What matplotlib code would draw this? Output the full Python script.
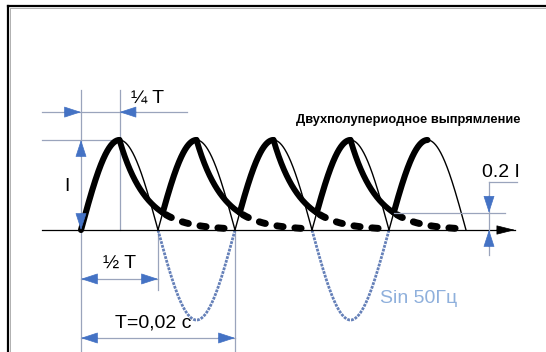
# Двухполупериодное выпрямление со сглаживанием
import numpy as np
import matplotlib.pyplot as plt

# --- исходные величины ---
T = 0.02            # период, с (50 Гц)
I_AMP = 1.0         # амплитуда тока
TAU = 0.0034        # постоянная времени разряда, с
N_HALF = 5          # число полуволн на рисунке
NEG_HALVES = [1, 3] # полуволны, где показан исходный синус (ниже оси)

TITLE = 'Двухполупериодное выпрямление'
LBL_QUARTER = '¼ T'
LBL_HALF = '½ T'
LBL_PERIOD = 'T=0,02 c'
LBL_I = 'I'
LBL_RIPPLE = '0.2 I'
LBL_SIN = 'Sin 50Гц'

plt.rcParams['font.family'] = ['Liberation Sans', 'DejaVu Sans']

DIM = '#9aa4bc'     # размерные линии
ARR = '#4472c4'     # стрелки
SIN_C = '#6580b8'
SIN_TXT = '#8fb0dc'

half = T / 2


def hump(k, t):
    """положительная полуволна номер k"""
    return I_AMP * np.sin(np.pi * (t - k * half) / half)


def decay(k, t):
    """разряд после пика полуволны k"""
    return I_AMP * np.exp(-(t - (k * half + T / 4)) / TAU)


def crossing(k):
    """момент, когда следующая полуволна догоняет разряд"""
    t = np.linspace((k + 1) * half, (k + 1.5) * half, 2000)
    i = np.argmax(hump(k + 1, t) >= decay(k, t))
    return t[i]


def head(ax, x, y, dx, dy, color=ARR, hl=1.1, hw=0.36):
    """только наконечник стрелки, dx/dy -- направление"""
    ax.annotate('', xy=(x, y), xytext=(-dx * 11 * hl, -dy * 11 * hl),
                textcoords='offset points',
                arrowprops=dict(arrowstyle='-|>,head_length=%s,head_width=%s' % (hl, hw),
                                mutation_scale=10, color=color, lw=0.5,
                                shrinkA=0, shrinkB=0))


fig = plt.figure(figsize=(5.46, 3.52), dpi=100)
ax = fig.add_axes([0, 0, 1, 1])
px = 7700.0   # пикселей на секунду
py = 90.0     # пикселей на I
ax.set_xlim(-81 / px, 465 / px)
ax.set_ylim(-122 / py, 230 / py)
ax.axis('off')

# рамка
fig.add_artist(plt.Line2D([8 / 546, 8 / 546], [0, 1 - 6 / 352], color='black', lw=1.6))
fig.add_artist(plt.Line2D([8 / 546, 1], [1 - 6 / 352, 1 - 6 / 352], color='black', lw=1.6))
fig.add_artist(plt.Line2D([10 / 546, 10 / 546], [0, 1 - 8 / 352], color='#b0b0b0', lw=0.7))
fig.add_artist(plt.Line2D([10 / 546, 1], [1 - 8 / 352, 1 - 8 / 352], color='#b0b0b0', lw=0.7))

# размерные линии
xl = -39 / px
ax.plot([0, 0], [-1.5, 1.56], color=DIM, lw=0.9)
ax.plot([T / 4, T / 4], [0, 1.56], color=DIM, lw=0.9)
ax.plot([half, half], [0, -0.67], color=DIM, lw=0.9)
ax.plot([T, T], [0, -1.5], color=DIM, lw=0.9)
ax.plot([xl, 106 / px], [1.31, 1.31], color=DIM, lw=0.9)
ax.plot([xl, T / 4], [I_AMP, I_AMP], color=DIM, lw=0.9)
ax.plot([0, half], [-0.544, -0.544], color=DIM, lw=0.9)
ax.plot([0, T], [-1.2, -1.2], color=DIM, lw=0.9)

# исходный синус (отрицательные полуволны)
for k in NEG_HALVES:
    t = np.linspace(k * half, (k + 1) * half, 200)
    ax.plot(t, -hump(k, t), color=SIN_C, lw=2.0, linestyle=(0, (1, 0.4)))

# тонкие полуволны
for k in range(N_HALF):
    t = np.linspace(k * half, (k + 1) * half, 200)
    ax.plot(t, hump(k, t), color='black', lw=1.0)

# ось времени
ax.plot([xl, 434 / px], [0, 0], color='black', lw=0.9)
head(ax, 434 / px, 0, 1, 0, color='black', hl=1.2, hw=0.3)

# толстая кривая: заряд до пика, затем разряд
start = 0.0
for k in range(N_HALF):
    t = np.linspace(start, k * half + T / 4, 200)
    ax.plot(t, hump(k, t), color='black', lw=4.4, solid_capstyle='round')
    if k < N_HALF - 1:
        tc = crossing(k)
        t = np.linspace(k * half + T / 4, tc, 200)
        ax.plot(t, decay(k, t), color='black', lw=4.2, solid_capstyle='round')
        t = np.linspace(tc + 0.0004, (k + 2) * half - 0.0003, 200)
        ax.plot(t, decay(k, t), color='black', lw=5.0,
                dashes=(0.9, 1.7), dash_capstyle='round')
        start = tc

# уровень пульсаций
tc_last = crossing(N_HALF - 2)
lvl = decay(N_HALF - 2, tc_last)
xr = 408 / px
ax.plot([tc_last, 424 / px], [lvl, lvl], color=DIM, lw=0.9)
ax.plot([xr, xr], [0.533, -0.28], color=DIM, lw=0.9)
ax.plot([xr, 436 / px], [0.533, 0.533], color=DIM, lw=0.9)
head(ax, xr, lvl, 0, -1)
head(ax, xr, 0, 0, 1)

# стрелки размеров
head(ax, 0, 1.31, 1, 0)
head(ax, T / 4, 1.31, -1, 0)
head(ax, 0, I_AMP, 0, 1)
head(ax, 0, 0, 0, -1)
head(ax, 0, -0.544, -1, 0)
head(ax, half, -0.544, 1, 0)
head(ax, 0, -1.2, -1, 0)
head(ax, T, -1.2, 1, 0)

# подписи
ax.text(0.0087, 1.47, LBL_QUARTER, fontsize=14, ha='center', va='center')
ax.text(-0.00182, 0.478, LBL_I, fontsize=14, ha='center', va='center')
ax.text(0.00506, -0.367, LBL_HALF, fontsize=14, ha='center', va='center')
ax.text(0.00935, -1.033, LBL_PERIOD, fontsize=14, ha='center', va='center')
ax.text(0.0546, 0.644, LBL_RIPPLE, fontsize=14, ha='center', va='center')
ax.text(0.0439, -0.756, LBL_SIN, fontsize=14, ha='center', va='center', color=SIN_TXT)
ax.text(0.0425, 1.222, TITLE, fontsize=9.3, fontweight='bold', ha='center', va='center')

plt.savefig('out.png', dpi=100)
